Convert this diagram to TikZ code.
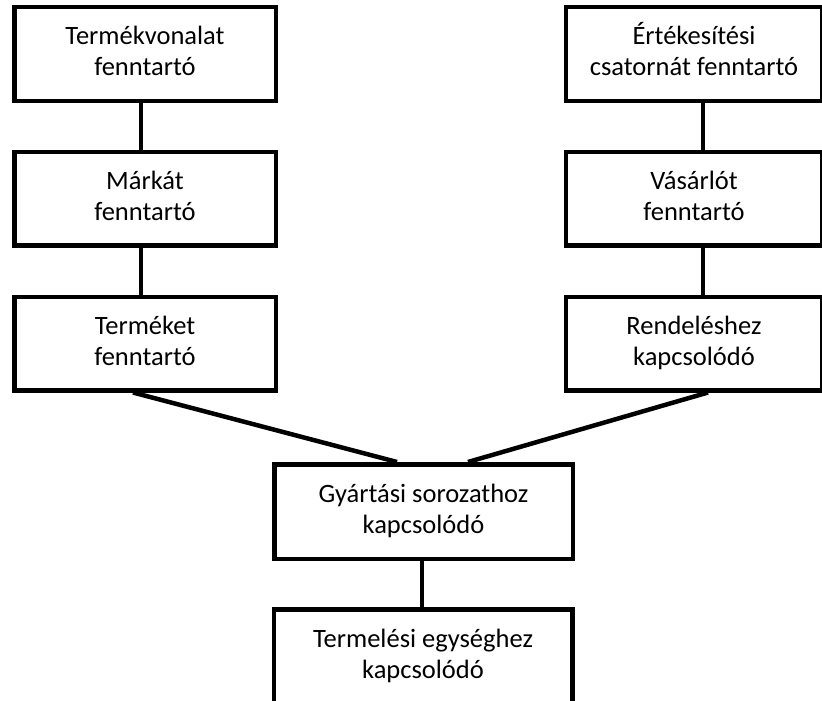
\documentclass[tikz,border=0pt]{standalone}
\usepackage{fontspec}
\setmainfont{Carlito}
\usepackage{tikz}

\begin{document}
\begin{tikzpicture}[x=1pt, y=-1pt,
  box/.style={draw, line width=4.5pt, inner sep=0pt, align=center, minimum height=93.5pt, font=\fontsize{26.5}{31}\selectfont},
  link/.style={line width=4.5pt}]

\useasboundingbox (0,0) rectangle (822,701);
\clip (0,0) rectangle (822,701);

% Left column
\node[box, minimum width=261.5pt] (termekvonal) at (145,54) {\strut Termékvonalat\\\strut fenntartó};
\node[box, minimum width=261.5pt] (marka) at (145,198.5) {\strut Márkát\\\strut fenntartó};
\node[box, minimum width=261.5pt] (termek) at (145,343.5) {\strut Terméket\\\strut fenntartó};

% Right column
\node[box, minimum width=256pt] (ertekesites) at (694,54) {\strut Értékesítési\\\strut csatornát fenntartó};
\node[box, minimum width=256pt] (vasarlo) at (694,198.5) {\strut Vásárlót\\\strut fenntartó};
\node[box, minimum width=256pt] (rendeles) at (694,343.5) {\strut Rendeléshez\\\strut kapcsolódó};

% Middle
\node[box, minimum width=298.5pt, minimum height=94.5pt] (gyartas) at (423.5,511.5) {\strut Gyártási sorozathoz\\\strut kapcsolódó};
\node[box, minimum width=298.5pt, minimum height=94.5pt] (termeles) at (423,656.5) {\strut Termelési egységhez\\\strut kapcsolódó};

% Connectors
\draw[link] ([xshift=-4pt]termekvonal.south) -- ([xshift=-4pt]marka.north);
\draw[link] ([xshift=-4pt]marka.south) -- ([xshift=-4pt]termek.north);
\draw[link] ([xshift=9pt]ertekesites.south) -- ([xshift=9pt]vasarlo.north);
\draw[link] ([xshift=9pt]vasarlo.south) -- ([xshift=9pt]rendeles.north);
\draw[link] ([xshift=-12pt]termek.south) -- ([xshift=-26.5pt]gyartas.north);
\draw[link] ([xshift=14pt]rendeles.south) -- ([xshift=44.5pt]gyartas.north);
\draw[link] ([xshift=-1.5pt]gyartas.south) -- ([xshift=-1pt]termeles.north);

\end{tikzpicture}
\end{document}
